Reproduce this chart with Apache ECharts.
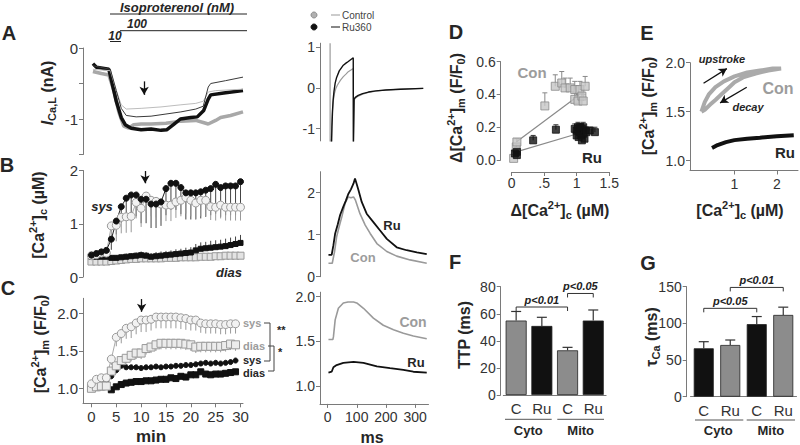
<!DOCTYPE html>
<html>
<head>
<meta charset="utf-8">
<title>Isoproterenol / Ru360 Ca2+ panels</title>
<script src="https://cdn.jsdelivr.net/npm/echarts@6.0.0/dist/echarts.min.js"></script>
<style>
html,body{margin:0;padding:0;background:#fff;}
#chart{width:800px;height:445px;}
</style>
</head>
<body>
<div id="chart"></div>
<script>
// ================= DATA =================
// Panel A (left): I_Ca,L (nA) vs time (min)
const aConThick = [[0.3,-0.33],[2,-0.36],[3.5,-0.38],[4.5,-0.6],[5.5,-0.9],[6.5,-1.1],[7.5,-1.13],[8.5,-1.08],[10,-1.07],[12,-1.07],[15,-1.06],[18,-1.03],[21,-1.02],[22.5,-1.05],[23.5,-1.07],[25,-1.02],[26,-0.98],[28,-0.95],[30.5,-0.9]];
const aRuThick = [[0.3,-0.22],[1,-0.27],[3.5,-0.3],[4,-0.45],[5,-0.75],[6,-0.98],[6.8,-1.08],[8,-1.13],[10,-1.15],[12,-1.14],[14,-1.16],[15.2,-1.15],[16.5,-1.08],[17.9,-1.0],[20,-0.98],[21.3,-0.97],[22.6,-0.88],[23.5,-0.72],[24,-0.66],[27,-0.63],[30.5,-0.6]];
const aConThin = [[0.3,-0.3],[3.8,-0.32],[5,-0.6],[6,-0.8],[7,-0.86],[10,-0.85],[14,-0.83],[18,-0.8],[21,-0.78],[22.5,-0.75],[23.5,-0.62],[25,-0.6],[30.5,-0.58]];
const aRuThin = [[0.3,-0.25],[3.8,-0.3],[5,-0.6],[6,-0.85],[7,-0.95],[9,-0.97],[12,-0.96],[15,-0.93],[18,-0.9],[21,-0.86],[22.5,-0.82],[23.5,-0.55],[24,-0.5],[27,-0.46],[30.5,-0.41]];

// Panel B (left): [Ca2+]c (uM) vs time (min)
const minutesB = [0,1,2,3,4,5,6,7,8,9,10,11,12,13,14,15,16,17,18,19,20,21,22,23,24,25,26,27,28,29,30];
const bSysRu   = [0.41,0.44,0.47,0.5,0.71,1.05,1.32,1.48,1.54,1.54,1.46,1.46,1.37,1.37,1.41,1.66,1.76,1.76,1.68,1.58,1.58,1.58,1.6,1.63,1.66,1.74,1.68,1.71,1.71,1.71,1.79];
const bSysCon  = [0.4,0.42,0.45,0.45,0.96,0.97,1.12,1.13,1.14,1.4,1.29,1.52,1.44,1.42,1.37,1.35,1.35,1.41,1.44,1.49,1.44,1.39,1.44,1.44,1.32,1.31,1.35,1.31,1.31,1.31,1.31];
const bDiasRu  = [0.38,0.38,0.38,0.38,0.36,0.36,0.37,0.38,0.39,0.4,0.41,0.4,0.38,0.39,0.4,0.41,0.42,0.43,0.44,0.45,0.46,0.5,0.53,0.54,0.55,0.56,0.57,0.58,0.6,0.62,0.64];
const bDiasCon = [0.29,0.29,0.29,0.29,0.3,0.31,0.32,0.33,0.34,0.34,0.35,0.35,0.35,0.35,0.35,0.36,0.36,0.36,0.37,0.37,0.37,0.37,0.38,0.38,0.38,0.39,0.39,0.4,0.4,0.4,0.4];
const bSysRuErrDown  = [0.05,0.05,0.05,0.05,0.2,0.25,0.3,0.35,0.4,0.4,0.45,0.45,0.45,0.45,0.45,0.5,0.5,0.5,0.5,0.5,0.5,0.5,0.5,0.5,0.5,0.55,0.55,0.55,0.55,0.55,0.55];
const bSysConErrDown = [0.05,0.05,0.05,0.05,0.3,0.3,0.3,0.3,0.3,0.3,0.35,0.3,0.3,0.3,0.3,0.3,0.3,0.3,0.3,0.3,0.3,0.3,0.3,0.3,0.25,0.25,0.25,0.25,0.25,0.25,0.25];
const bDiasRuErrUp   = [0.03,0.03,0.03,0.03,0.05,0.05,0.05,0.06,0.06,0.06,0.07,0.07,0.07,0.08,0.08,0.08,0.08,0.09,0.09,0.1,0.1,0.12,0.12,0.12,0.13,0.13,0.13,0.14,0.14,0.14,0.15];

// Panel C (left): [Ca2+]m (F/F0) vs time (min)
const minutesC = [0,1,2,3,4,5,6,7,8,9,10,11,12,13,14,15,16,17,18,19,20,21,22,23,24,25,26,27,28,29];
const cSysCon  = [1.06,1.12,1.14,1.14,1.39,1.68,1.73,1.8,1.82,1.87,1.91,1.91,1.92,1.95,1.95,1.95,1.95,1.95,1.94,1.93,1.91,1.91,1.87,1.86,1.86,1.86,1.85,1.85,1.86,1.86];
const cDiasCon = [1.0,1.02,1.03,1.03,1.23,1.3,1.37,1.4,1.44,1.47,1.47,1.53,1.55,1.58,1.6,1.6,1.6,1.6,1.6,1.59,1.58,1.55,1.56,1.56,1.56,1.56,1.56,1.57,1.59,1.58];
const cSysRu   = [1.06,1.08,1.09,1.1,1.16,1.24,1.3,1.28,1.28,1.28,1.27,1.28,1.28,1.29,1.28,1.29,1.29,1.3,1.3,1.31,1.31,1.32,1.33,1.34,1.33,1.34,1.33,1.34,1.35,1.37];
const cDiasRu  = [1.0,1.01,1.02,1.03,0.98,1.02,1.05,1.07,1.08,1.09,1.09,1.1,1.1,1.11,1.12,1.12,1.14,1.13,1.16,1.15,1.18,1.18,1.22,1.19,1.18,1.19,1.19,1.2,1.21,1.22];
const cSysConErrDown  = [0.03,0.03,0.03,0.03,0.08,0.12,0.13,0.14,0.15,0.15,0.16,0.16,0.15,0.15,0.15,0.15,0.15,0.15,0.15,0.15,0.14,0.14,0.13,0.13,0.13,0.13,0.13,0.13,0.13,0.13];
const cDiasConErrDown = [0.02,0.02,0.02,0.02,0.05,0.06,0.07,0.07,0.08,0.08,0.08,0.08,0.08,0.08,0.08,0.08,0.08,0.08,0.08,0.08,0.08,0.08,0.08,0.08,0.08,0.08,0.08,0.08,0.08,0.08];
const cMinTicks = [0,5,10,15,20,25,30];

// Middle A: current traces (ms, nA)
const iCon = [[8.6,1.1],[8.7,-1.4],[12.5,-1.4],[14,-1.0],[16,-0.65],[19,-0.35],[23,-0.15],[28,-0.02],[33,0.06],[37,0.11],[45,0.2],[54,0.28],[63,0.34],[71,0.4],[80,0.44],[88,0.48],[88.5,-1.4],[91,-0.3],[95,-0.25],[105,-0.2],[120,-0.15],[140,-0.11],[165,-0.08],[200,-0.05],[250,-0.03],[328,-0.01]];
const iRu  = [[13.5,-1.4],[15,-0.95],[17,-0.55],[19,-0.3],[22,-0.08],[26,0.12],[31,0.26],[40,0.42],[54,0.56],[63,0.61],[71,0.65],[80,0.7],[88,0.74],[88.5,-1.4],[91,-0.27],[95,-0.23],[105,-0.18],[120,-0.14],[140,-0.1],[165,-0.07],[200,-0.05],[250,-0.03],[328,-0.01]];
// Middle B: [Ca2+]c transients (ms, uM)
const caRu  = [[3,0.52],[14,0.52],[20,0.75],[26,1.03],[35,1.25],[43,1.47],[54,1.67],[62,1.8],[71,1.97],[80,2.08],[89,2.22],[94,2.34],[100,2.2],[106,2.06],[117,1.78],[134,1.5],[157,1.3],[180,1.1],[203,0.9],[237,0.7],[271,0.63],[306,0.58],[340,0.54]];
const caCon = [[3,0.32],[16,0.32],[24,0.6],[31,0.95],[40,1.2],[49,1.43],[60,1.75],[71,1.9],[80,1.88],[89,1.9],[95,1.83],[111,1.5],[129,1.23],[146,1.03],[169,0.79],[203,0.6],[237,0.49],[283,0.4],[340,0.32]];
// Middle C: [Ca2+]m transients (ms, F/F0)
const mCon = [[3,1.52],[18,1.52],[20,1.55],[26,1.74],[37,1.87],[54,1.93],[70,1.94],[89,1.94],[100,1.93],[123,1.87],[157,1.76],[191,1.68],[226,1.63],[260,1.59],[294,1.56],[340,1.53]];
const mRu  = [[3,1.15],[14,1.16],[20,1.21],[31,1.235],[54,1.26],[89,1.27],[123,1.26],[169,1.22],[214,1.2],[260,1.18],[294,1.16],[340,1.15]];
const msTicks = [0,100,200,300];

// Panel D: [dCa_c, dCa_m, sem]
const dCon = [[0.03,0.01,0.01],[0.07,0.08,0.02],[0.08,0.11,0.02],[0.51,0.33,0.08],[0.67,0.45,0.07],[0.77,0.47,0.07],[0.82,0.44,0.06],[0.9,0.44,0.06],[0.97,0.43,0.05],[0.97,0.37,0.04],[1.02,0.36,0.04],[1.05,0.43,0.05],[1.08,0.39,0.04],[1.1,0.36,0.04],[1.13,0.45,0.06]];
const dRu  = [[0.05,0.04,0.01],[0.08,0.05,0.01],[0.08,0.03,0.01],[0.33,0.12,0.03],[0.68,0.185,0.03],[0.97,0.19,0.03],[1.0,0.18,0.03],[1.02,0.2,0.03],[1.05,0.17,0.03],[1.07,0.15,0.02],[1.08,0.19,0.03],[1.1,0.2,0.03],[1.1,0.16,0.03],[1.12,0.13,0.02],[1.05,0.2,0.02],[1.0,0.15,0.02],[1.13,0.18,0.02],[1.15,0.17,0.02],[1.2,0.18,0.02],[1.03,0.14,0.02],[1.08,0.12,0.02],[1.28,0.17,0.03]];
const dConFit = [[0.07,0.11],[1.02,0.39]];
const dRuFit  = [[0.07,0.05],[1.05,0.165]];
const dXTicks = [0,0.5,1,1.5];
const dXTickText = ['0','.5','1','1.5'];
const dYTicks = [0,0.2,0.4,0.6];

// Panel E: [Ca2+]m vs [Ca2+]c loops
const eCon = [[0.22,1.5],[0.3,1.6],[0.4,1.68],[0.55,1.75],[0.75,1.81],[1.0,1.86],[1.3,1.9],[1.6,1.92],[1.9,1.94],[2.1,1.94],[1.8,1.92],[1.5,1.89],[1.2,1.85],[1.0,1.8],[0.85,1.74],[0.7,1.68],[0.55,1.62],[0.42,1.57],[0.3,1.52],[0.22,1.5]];
const eRu  = [[0.47,1.13],[0.6,1.16],[0.8,1.19],[1.0,1.21],[1.3,1.225],[1.6,1.235],[2.0,1.25],[2.4,1.26]];
const eXTicks = [1,2];
const eYTicks = [1,1.5,2];

// Panel F: TTP (ms)
const fCats = ['C','Ru','C','Ru'];
const fMeans = [55,51,33,55];
const fErr = [6.7,6.4,2.2,7.8];
const fBrackets = [[0,2,65],[2,3,75]];
const fBracketText = ['p<0.01','p<0.05'];
const fYTicks = [0,20,40,60,80];
// Panel G: tau Ca (ms)
const gCats = ['C','Ru','C','Ru'];
const gMeans = [66,70.5,99,111.5];
const gErr = [9,6.8,10.3,10.6];
const gBrackets = [[0,2,120.5],[1,3,149]];
const gBracketText = ['p<0.05','p<0.01'];
const gYTicks = [0,50,100,150];

// Other tick values
const aYTicks = [-1.5,-1,-0.5,0];
const aYLabels = [-1,0];
const bYTicks = [0,1,2];
const cYTicks = [1,1.5,2];
const mAYTicks = [-1,0,1];
const mBYTicks = [0,1,2];
const mCYTicks = [1,1.5,2];

// ================= STYLE HELPERS =================
const FF = '"Liberation Sans", Arial, Helvetica, sans-serif';
const AXC = '#7a7a7a';
const TXT = '#262626';
const GTX = '#9c9c9c';
const GRAY_BAR = '#8c8c8c';
const fColors = [GRAY_BAR,'#111',GRAY_BAR,'#111'];
const gColors = ['#111',GRAY_BAR,'#111',GRAY_BAR];

function font(size, weight, style) { return [style || 'normal', weight || 'normal', size + 'px', FF].join(' '); }

function valAxis(gi, min, max, o) {
  o = o || {};
  const ax = {
    type: 'value', gridIndex: gi, min: min, max: max,
    show: o.show !== false, offset: o.offset || 0,
    axisLine: { show: true, onZero: false, lineStyle: { color: AXC, width: 1 } },
    axisTick: { show: true, length: 4, lineStyle: { color: AXC, width: 1 } },
    axisLabel: { show: true, color: '#333', fontSize: o.fs || 14, fontFamily: FF, margin: o.margin == null ? 5 : o.margin },
    splitLine: { show: false }
  };
  if (o.ticks) { ax.axisTick.customValues = o.ticks; ax.axisLabel.customValues = o.labels || o.ticks; }
  if (o.fmt) ax.axisLabel.formatter = o.fmt;
  return ax;
}
function catAxis(gi, cats) {
  return { type: 'category', gridIndex: gi, data: cats, boundaryGap: true,
    axisLine: { show: true, onZero: false, lineStyle: { color: AXC, width: 1 } },
    axisTick: { show: false },
    axisLabel: { color: '#333', fontSize: 15, fontFamily: FF, margin: 6, interval: 0 },
    splitLine: { show: false } };
}
function line(gi, data, color, width, extra) {
  return Object.assign({ type: 'line', xAxisIndex: gi, yAxisIndex: gi, data: data, symbol: 'none', showSymbol: false,
    lineStyle: { color: color, width: width }, itemStyle: { color: color }, silent: true, z: 2 }, extra || {});
}
function pts(gi, data, sym, size, fill, border, lineColor, lw, extra) {
  return Object.assign({ type: 'line', xAxisIndex: gi, yAxisIndex: gi, data: data, symbol: sym, symbolSize: size,
    showSymbol: true, showAllSymbol: true,
    itemStyle: { color: fill, borderColor: border, borderWidth: 1 },
    lineStyle: { color: lineColor, width: lw }, silent: true, z: 3 }, extra || {});
}
function arrow(pairs) {
  return { silent: true, symbol: ['none', 'arrow'], symbolSize: [7, 8], label: { show: false },
    lineStyle: { color: '#111', width: 1.3, type: 'solid' }, emphasis: { disabled: true },
    data: pairs.map(p => [{ coord: p[0] }, { coord: p[1] }]) };
}
function zip(xs, ys) { return xs.map((x, i) => [x, ys[i]]); }
function zip3(xs, ys, es, sign) { return xs.map((x, i) => [x, ys[i], sign * es[i]]); }
function errSeries(gi, data, color, cap, lw) {
  return { type: 'custom', xAxisIndex: gi, yAxisIndex: gi, data: data, silent: true, z: 1, encode: { x: 0, y: 1 },
    renderItem: function (params, api) {
      const x = api.value(0), y = api.value(1), e = api.value(2);
      const a = api.coord([x, y]), b = api.coord([x, y + e]);
      const st = { stroke: color, lineWidth: lw || 1, fill: 'none' };
      const ch = [{ type: 'line', shape: { x1: a[0], y1: a[1], x2: b[0], y2: b[1] }, style: st }];
      if (cap) ch.push({ type: 'line', shape: { x1: b[0] - cap, y1: b[1], x2: b[0] + cap, y2: b[1] }, style: st });
      return { type: 'group', children: ch };
    } };
}
function bracketSeries(gi, data, labels, dropPx) {
  return { type: 'custom', xAxisIndex: gi, yAxisIndex: gi, data: data, silent: true, z: 5, encode: { x: 0, y: 2 },
    renderItem: function (params, api) {
      const i1 = api.value(0), i2 = api.value(1), y = api.value(2);
      const p1 = api.coord([i1, y]), p2 = api.coord([i2, y]);
      const st = { stroke: '#333', lineWidth: 1, fill: 'none' };
      return { type: 'group', children: [
        { type: 'polyline', shape: { points: [[p1[0], p1[1] + dropPx], [p1[0], p1[1]], [p2[0], p2[1]], [p2[0], p2[1] + dropPx]] }, style: st },
        { type: 'text', x: (p1[0] + p2[0]) / 2, y: p1[1] - 1.5,
          style: { text: labels[params.dataIndex], font: font(11, 'bold', 'italic'), fill: '#222',
                   textAlign: 'center', align: 'center', textVerticalAlign: 'bottom', verticalAlign: 'bottom' } }
      ] };
    } };
}

// graphic helpers (annotation text / lines)
function richFor(size) {
  const s = Math.round(size * 0.68);
  const mk = (va) => ({ fontSize: s, fontWeight: 'bold', fontStyle: 'normal', fontFamily: FF, font: font(s, 'bold'),
                        lineHeight: Math.round(size * 0.75), verticalAlign: va, fill: TXT });
  return { sup: mk('top'), sub: mk('bottom'),
    it: { fontSize: size, fontWeight: 'bold', fontStyle: 'italic', fontFamily: FF, font: font(size, 'bold', 'italic'),
          lineHeight: Math.round(size * 1.3), fill: TXT } };
}
function label(x, y, text, size, o) {
  o = o || {};
  const w = o.weight || 'bold', s = o.style || 'normal', al = o.align || 'center';
  const lh = o.lh || Math.round(size * 1.3);
  const el = { type: 'text', x: x, y: y, silent: true, z: 100,
    style: { text: text, fill: o.fill || TXT, font: font(size, w, s), fontSize: size, fontWeight: w, fontStyle: s, fontFamily: FF,
             lineHeight: lh, textAlign: al, align: al, textVerticalAlign: 'middle', verticalAlign: 'middle',
             rich: richFor(size) } };
  if (o.rot) el.rotation = Math.PI / 2;
  return el;
}
function seg(x1, y1, x2, y2, color, w) {
  return { type: 'line', silent: true, z: 100, shape: { x1: x1, y1: y1, x2: x2, y2: y2 }, style: { stroke: color || '#222', lineWidth: w || 1 } };
}
function poly(points, color, w) {
  return { type: 'polyline', silent: true, z: 100, shape: { points: points }, style: { stroke: color || '#222', lineWidth: w || 1, fill: 'none' } };
}
function dot(cx, cy, r, fill, stroke) {
  return { type: 'circle', silent: true, z: 100, shape: { cx: cx, cy: cy, r: r }, style: { fill: fill, stroke: stroke, lineWidth: 1 } };
}

// ================= LAYOUT =================
const grids = [
  { left: 83, top: 48, width: 160, height: 106.5 },
  { left: 83, top: 170.5, width: 160, height: 106.5 },
  { left: 83, top: 298.3, width: 160, height: 105 },
  { left: 320, top: 43.2, width: 108.5, height: 97.7 },
  { left: 320, top: 171.7, width: 108.5, height: 105 },
  { left: 320, top: 292.2, width: 108.5, height: 111.7 },
  { left: 511.7, top: 61.7, width: 97.5, height: 98.3 },
  { left: 690, top: 62.7, width: 108, height: 107.8 },
  { left: 503.3, top: 286.7, width: 102.8, height: 108.3 },
  { left: 690.5, top: 286.7, width: 106, height: 110 }
].map(g => Object.assign({ containLabel: false, outerBoundsMode: 'none', show: false }, g));

const xAxes = [
  valAxis(0, -1.7, 30.5, { show: false }),
  valAxis(1, -1.7, 30.5, { show: false }),
  valAxis(2, -1.7, 30.5, { ticks: cMinTicks, fs: 15, margin: 6 }),
  valAxis(3, -26, 346, { show: false }),
  valAxis(4, -26, 346, { show: false }),
  valAxis(5, -26, 346, { ticks: msTicks, margin: 6 }),
  valAxis(6, 0, 1.5, { ticks: dXTicks, offset: 12, margin: 4, fmt: v => dXTickText[dXTicks.indexOf(v)] }),
  valAxis(7, -0.05, 2.5, { ticks: eXTicks, margin: 6 }),
  catAxis(8, fCats),
  catAxis(9, gCats)
];
const yAxes = [
  valAxis(0, -1.5, 0, { ticks: aYTicks, labels: aYLabels, fs: 15 }),
  valAxis(1, 0, 2, { ticks: bYTicks, fs: 15 }),
  valAxis(2, 0.8, 2.2, { ticks: cYTicks, fs: 15, fmt: v => v.toFixed(1) }),
  valAxis(3, -1.3, 1.1, { ticks: mAYTicks }),
  valAxis(4, 0, 2.5, { ticks: mBYTicks }),
  valAxis(5, 0.8, 2.05, { ticks: mCYTicks, fmt: v => v.toFixed(1) }),
  valAxis(6, 0, 0.6, { ticks: dYTicks, offset: 11, fmt: v => v.toFixed(1) }),
  valAxis(7, 0.9, 2.0, { ticks: eYTicks, fmt: v => v.toFixed(1) }),
  valAxis(8, 0, 80, { ticks: fYTicks, offset: 2.6 }),
  valAxis(9, 0, 150, { ticks: gYTicks, offset: 3.8 })
];

// ================= SERIES =================
const series = [
  // A left
  line(0, aConThick, '#a8a8a8', 3.5),
  line(0, aRuThick, '#111', 3.5, { markLine: arrow([[[10.6, -0.47], [10.6, -0.66]]]) }),
  line(0, aConThin, '#bdbdbd', 1),
  line(0, aRuThin, '#3a3a3a', 1),
  // B left
  errSeries(1, zip3(minutesB, bSysRu, bSysRuErrDown, -1), '#444', 0, 1),
  errSeries(1, zip3(minutesB, bSysCon, bSysConErrDown, -1), '#999', 0, 1),
  errSeries(1, zip3(minutesB, bDiasRu, bDiasRuErrUp, 1), '#444', 0, 1),
  pts(1, zip(minutesB, bDiasCon), 'rect', 7, '#e3e3e3', '#999', '#aaa', 1),
  pts(1, zip(minutesB, bDiasRu), 'rect', 5, '#111', '#111', '#111', 1.5),
  pts(1, zip(minutesB, bSysCon), 'circle', 8, '#f2f2f2', '#9a9a9a', '#aaa', 1),
  pts(1, zip(minutesB, bSysRu), 'circle', 6, '#111', '#111', '#222', 1, { markLine: arrow([[[10.8, 1.99], [10.8, 1.76]]]) }),
  // C left
  errSeries(2, zip3(minutesC, cSysCon, cSysConErrDown, -1), '#9a9a9a', 0, 1),
  errSeries(2, zip3(minutesC, cDiasCon, cDiasConErrDown, -1), '#9a9a9a', 0, 1),
  pts(2, zip(minutesC, cDiasRu), 'rect', 6, '#111', '#111', '#111', 1),
  pts(2, zip(minutesC, cSysRu), 'circle', 5, '#111', '#111', '#111', 1),
  pts(2, zip(minutesC, cDiasCon), 'rect', 8, '#ececec', '#9a9a9a', '#aaa', 1),
  pts(2, zip(minutesC, cSysCon), 'circle', 8, '#f2f2f2', '#9a9a9a', '#aaa', 1, { markLine: arrow([[[10.1, 2.19], [10.1, 2.02]]]) }),
  // middle A
  line(3, iCon, '#9a9a9a', 1.2),
  line(3, iRu, '#111', 1.4),
  // middle B
  line(4, caCon, '#9a9a9a', 1.6),
  line(4, caRu, '#111', 1.8),
  // middle C
  line(5, mCon, '#9a9a9a', 1.6),
  line(5, mRu, '#111', 1.8),
  // D
  line(6, dConFit, '#8a8a8a', 1.2, { z: 1 }),
  line(6, dRuFit, '#8a8a8a', 1.2, { z: 1 }),
  errSeries(6, dCon.map(p => [p[0], p[1], p[2]]), '#888', 2.5, 1),
  errSeries(6, dRu.map(p => [p[0], p[1], p[2]]), '#333', 2.5, 1),
  { type: 'scatter', xAxisIndex: 6, yAxisIndex: 6, data: dCon.map(p => [p[0], p[1]]), symbol: 'rect', symbolSize: 8,
    itemStyle: { color: '#c6c6c6', borderColor: '#8a8a8a', borderWidth: 1 }, silent: true, z: 3 },
  { type: 'scatter', xAxisIndex: 6, yAxisIndex: 6, data: dRu.map(p => [p[0], p[1]]), symbol: 'rect', symbolSize: 7,
    itemStyle: { color: '#111', borderColor: '#111', borderWidth: 1 }, silent: true, z: 3 },
  // E
  line(7, eCon, '#aaaaaa', 4, { markLine: arrow([[[0.27, 1.79], [0.82, 1.94]], [[1.29, 1.75], [0.66, 1.59]]]) }),
  line(7, eRu, '#111', 4),
  // F
  { type: 'bar', xAxisIndex: 8, yAxisIndex: 8, barWidth: 21, silent: true, z: 2,
    data: fMeans.map((v, i) => ({ value: v, itemStyle: { color: fColors[i], borderColor: '#222', borderWidth: 0.8 } })) },
  errSeries(8, fMeans.map((v, i) => [i, v, fErr[i]]), '#333', 5, 1.2),
  bracketSeries(8, fBrackets, fBracketText, 4),
  // G
  { type: 'bar', xAxisIndex: 9, yAxisIndex: 9, barWidth: 20, silent: true, z: 2,
    data: gMeans.map((v, i) => ({ value: v, itemStyle: { color: gColors[i], borderColor: '#222', borderWidth: 0.8 } })) },
  errSeries(9, gMeans.map((v, i) => [i, v, gErr[i]]), '#333', 5, 1.2),
  bracketSeries(9, gBrackets, gBracketText, 4)
];

// ================= ANNOTATIONS =================
const graphics = [
  // panel letters
  label(9, 33, 'A', 20), label(7, 165, 'B', 20), label(8, 288, 'C', 20),
  label(456, 32, 'D', 20), label(647, 33, 'E', 20), label(455, 262, 'F', 20), label(648, 263, 'G', 20),
  // isoproterenol header
  label(177, 7, 'Isoproterenol (nM)', 13, { style: 'italic' }),
  seg(110, 14, 247, 14, '#222', 1),
  label(137, 24, '100', 12, { style: 'italic' }),
  seg(120, 30.7, 247, 30.7, '#222', 1),
  label(115, 36, '10', 12, { style: 'italic' }),
  seg(110, 41.5, 121, 41.5, '#222', 1),
  // y-axis titles
  label(47, 93, '{it|I}{sub|Ca,L} (nA)', 16, { rot: true }),
  label(38, 215, '[Ca{sup|2+}]{sub|c} (µM)', 16, { rot: true }),
  label(40, 344, '[Ca{sup|2+}]{sub|m} (F/F{sub|0})', 16, { rot: true }),
  label(456, 108, 'Δ[Ca{sup|2+}]{sub|m} (F/F{sub|0})', 16, { rot: true }),
  label(648, 106, '[Ca{sup|2+}]{sub|m} (F/F{sub|0})', 16, { rot: true }),
  label(464, 335, 'TTP (ms)', 16, { rot: true }),
  label(651, 337, 'τ{sub|Ca} (ms)', 16, { rot: true }),
  // x-axis titles
  label(151, 436, 'min', 17),
  label(372, 437, 'ms', 16),
  label(560, 210, 'Δ[Ca{sup|2+}]{sub|c} (µM)', 16),
  label(740, 210, '[Ca{sup|2+}]{sub|c} (µM)', 16),
  // B left labels
  label(102, 206, 'sys', 13, { style: 'italic' }),
  label(229, 272, 'dias', 13, { style: 'italic' }),
  // C left labels + brackets
  label(243, 323, 'sys', 11, { fill: GTX, align: 'left', lh: 11 }),
  label(243, 346, 'dias', 11, { fill: GTX, align: 'left', lh: 11 }),
  label(243, 359.5, 'sys', 11, { align: 'left', lh: 11 }),
  label(243, 373, 'dias', 11, { align: 'left', lh: 11 }),
  poly([[264, 323], [270, 323], [270, 361], [264, 361]], '#444', 1),
  poly([[268, 346], [274, 346], [274, 371], [268, 371]], '#444', 1),
  label(277, 330, '**', 11, { align: 'left', lh: 11 }),
  label(278, 352, '*', 11, { align: 'left', lh: 11 }),
  // middle legend
  dot(314, 15, 3, '#b0b0b0', '#8a8a8a'),
  seg(331, 15, 340, 15, '#999', 1),
  label(342, 15, 'Control', 10, { weight: 'normal', align: 'left', fill: '#444' }),
  dot(314, 27, 3, '#111', '#111'),
  seg(331, 27, 340, 27, '#111', 1),
  label(342, 27, 'Ru360', 10, { weight: 'normal', align: 'left', fill: '#444' }),
  // middle B/C labels
  label(392, 225, 'Ru', 13),
  label(363, 257, 'Con', 13, { fill: GTX }),
  label(413, 322, 'Con', 14, { fill: GTX }),
  label(416, 362, 'Ru', 13),
  // D labels
  label(532, 72, 'Con', 15, { fill: GTX }),
  label(592, 157, 'Ru', 15),
  // E labels
  label(722, 59, 'upstroke', 11, { style: 'italic' }),
  label(748, 107, 'decay', 11, { style: 'italic' }),
  label(778, 88, 'Con', 16, { fill: GTX }),
  label(785, 152, 'Ru', 15),
  // F / G group underlines and labels
  seg(505, 419.3, 551.7, 419.3, '#555', 1), seg(557.3, 419.3, 604, 419.3, '#555', 1),
  label(528.3, 430, 'Cyto', 13), label(580.7, 430, 'Mito', 13),
  seg(695, 420, 743.3, 420, '#555', 1), seg(746.7, 420, 795, 420, '#555', 1),
  label(718.3, 430, 'Cyto', 13), label(770.8, 430, 'Mito', 13)
];

const option = {
  animation: false,
  backgroundColor: '#ffffff',
  textStyle: { fontFamily: FF },
  grid: grids,
  xAxis: xAxes,
  yAxis: yAxes,
  series: series,
  graphic: graphics
};

const chart = echarts.init(document.getElementById('chart'), null, { renderer: 'svg', width: 800, height: 445 });
chart.setOption(option);
</script>
</body>
</html>
